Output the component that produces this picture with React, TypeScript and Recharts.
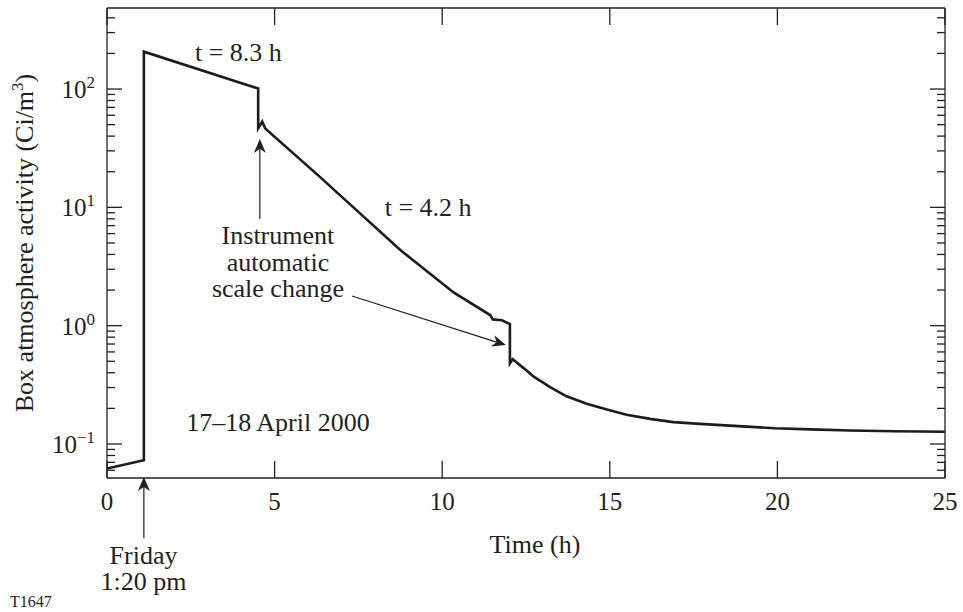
import {
  LineChart,
  Line,
  XAxis,
  YAxis,
  Label,
  ReferenceLine,
  ReferenceDot
} from "recharts";

// readings: time (h) and box activity (Ci/m3)
const hours = [
  0, 1.1, 1.1, 4.51, 4.51, 4.63, 4.72, 6.35, 8.75, 10.35, 11.43, 11.51, 11.78,
  12.02, 12.02, 12.1, 12.42, 12.72, 13.22, 13.71, 14.31, 14.94, 15.5, 16.2,
  16.9, 17.69, 19.92, 21, 22.17, 23.5, 25
];
const activity = [
  0.062, 0.073, 207, 101, 46.5, 53, 46.5, 18.1, 4.36, 1.9, 1.23, 1.13, 1.11,
  1.03, 0.48, 0.52, 0.44, 0.373, 0.303, 0.253, 0.219, 0.195, 0.177, 0.163,
  0.153, 0.148, 0.136, 0.133, 0.13, 0.128, 0.127
];

const xTicks = [0, 5, 10, 15, 20, 25];
const yTicks = [
  0.06, 0.07, 0.08, 0.09, 0.1, 0.2, 0.3, 0.4, 0.5, 0.6, 0.7, 0.8, 0.9,
  1, 2, 3, 4, 5, 6, 7, 8, 9, 10, 20, 30, 40, 50, 60, 70, 80, 90, 100, 200, 300, 400
];

const xDomain = [0, 25];
const yDomain = [0.0516, 484];

const serif = '"Liberation Serif", "Times New Roman", "DejaVu Serif", serif';
const ink = "#231f20";

const data = hours.map((t, i) => ({ t, v: activity[i] }));

const isMajor = (v: number) =>
  Math.abs(Math.log10(v) - Math.round(Math.log10(v))) < 1e-9;

function BottomTick(props: any) {
  const { x, y, payload } = props;
  return (
    <g>
      <line x1={x} y1={y} x2={x} y2={y - 17} stroke={ink} strokeWidth={1.3} />
      <text x={x} y={y + 32} textAnchor="middle" fontSize={25} fontFamily={serif} fill={ink}>
        {payload.value}
      </text>
    </g>
  );
}

function TopTick(props: any) {
  const { x, y } = props;
  return <line x1={x} y1={y} x2={x} y2={y + 17} stroke={ink} strokeWidth={1.3} />;
}

function LeftTick(props: any) {
  const { x, y, payload } = props;
  const major = isMajor(payload.value);
  const exp = Math.round(Math.log10(payload.value));
  return (
    <g>
      <line x1={x} y1={y} x2={x + (major ? 15 : 8)} y2={y} stroke={ink} strokeWidth={1.3} />
      {major && (
        <text x={x - 12} y={y + 9} textAnchor="end" fontSize={25} fontFamily={serif} fill={ink}>
          <tspan>10</tspan>
          <tspan dy={-10} fontSize={17}>{exp < 0 ? "\u2212" + Math.abs(exp) : exp}</tspan>
        </text>
      )}
    </g>
  );
}

function RightTick(props: any) {
  const { x, y, payload } = props;
  const major = isMajor(payload.value);
  return <line x1={x} y1={y} x2={x - (major ? 15 : 8)} y2={y} stroke={ink} strokeWidth={1.3} />;
}

function Arrow(p: any) {
  const { x1, y1, x2, y2 } = p;
  const len = Math.hypot(x2 - x1, y2 - y1) || 1;
  const ux = (x2 - x1) / len;
  const uy = (y2 - y1) / len;
  const hl = 14;
  const hw = 6;
  const bx = x2 - ux * hl;
  const by = y2 - uy * hl;
  const nx = x2 - ux * hl * 0.7;
  const ny = y2 - uy * hl * 0.7;
  return (
    <g>
      <line x1={x1} y1={y1} x2={nx} y2={ny} stroke={ink} strokeWidth={1.2} />
      <path
        d={`M${x2},${y2} L${bx - uy * hw},${by + ux * hw} L${nx},${ny} L${bx + uy * hw},${by - ux * hw} Z`}
        fill={ink}
      />
    </g>
  );
}

function note(lines: string[], size = 26) {
  return (p: any) => (
    <text x={p.cx} y={p.cy} textAnchor="middle" fontSize={size} fontFamily={serif} fill={ink}>
      {lines.map((s, i) => (
        <tspan key={i} x={p.cx} dy={i === 0 ? 0 : 26.5}>
          {s}
        </tspan>
      ))}
    </text>
  );
}

export default function App() {
  return (
    <div style={{ position: "absolute", left: 0, top: 0, width: 963, height: 612, background: "#fff" }}>
      <LineChart width={963} height={612} data={data} margin={{ top: 0, right: 0, bottom: 0, left: 0 }}>
        <XAxis
          dataKey="t"
          type="number"
          domain={xDomain}
          ticks={xTicks}
          interval={0}
          allowDataOverflow
          height={134}
          tickSize={0}
          tickMargin={0}
          tickLine={false}
          axisLine={{ stroke: ink, strokeWidth: 1.3 }}
          tick={(p: any) => <BottomTick {...p} />}
        >
          <Label
            value="Time (h)"
            position="insideBottom"
            offset={59}
            dx={9}
            style={{ fontSize: 26, fontFamily: serif, fill: ink }}
          />
        </XAxis>
        <XAxis
          xAxisId="top"
          orientation="top"
          dataKey="t"
          type="number"
          domain={xDomain}
          ticks={xTicks}
          interval={0}
          allowDataOverflow
          height={8}
          tickSize={0}
          tickMargin={0}
          tickLine={false}
          axisLine={{ stroke: ink, strokeWidth: 1.3 }}
          tick={(p: any) => <TopTick {...p} />}
        />
        <YAxis
          type="number"
          scale="log"
          domain={yDomain}
          ticks={yTicks}
          interval={0}
          allowDataOverflow
          width={107}
          tickSize={0}
          tickMargin={0}
          tickLine={false}
          axisLine={{ stroke: ink, strokeWidth: 1.3 }}
          tick={(p: any) => <LeftTick {...p} />}
        >
          <Label
            content={() => (
              <text
                transform="translate(33,243) rotate(-90)"
                textAnchor="middle"
                fontSize={26}
                fontFamily={serif}
                fill={ink}
              >
                <tspan>Box atmosphere activity (Ci/m</tspan>
                <tspan dy={-10} fontSize={17}>3</tspan>
                <tspan dy={10}>)</tspan>
              </text>
            )}
          />
        </YAxis>
        <YAxis
          yAxisId="right"
          orientation="right"
          type="number"
          scale="log"
          domain={yDomain}
          ticks={yTicks}
          interval={0}
          allowDataOverflow
          width={18}
          tickSize={0}
          tickMargin={0}
          tickLine={false}
          axisLine={{ stroke: ink, strokeWidth: 1.3 }}
          tick={(p: any) => <RightTick {...p} />}
        />

        <Line
          type="linear"
          dataKey="v"
          stroke="#1c1c1c"
          strokeWidth={2.6}
          dot={false}
          activeDot={false}
          isAnimationActive={false}
        />
        <Line
          xAxisId="top"
          yAxisId="right"
          dataKey="v"
          stroke="none"
          dot={false}
          activeDot={false}
          isAnimationActive={false}
        />

        <ReferenceLine
          segment={[{ x: 1.1, y: 0.016 }, { x: 1.1, y: 0.0525 }]}
          ifOverflow="visible"
          shape={(p: any) => <Arrow {...p} />}
        />
        <ReferenceLine
          segment={[{ x: 4.56, y: 7.96 }, { x: 4.56, y: 37.8 }]}
          ifOverflow="visible"
          shape={(p: any) => <Arrow {...p} />}
        />
        <ReferenceLine
          segment={[{ x: 7.31, y: 1.78 }, { x: 11.9, y: 0.685 }]}
          ifOverflow="visible"
          shape={(p: any) => <Arrow {...p} />}
        />

        <ReferenceDot x={3.92} y={172.5} r={0} ifOverflow="visible" shape={note(["t = 8.3 h"])} />
        <ReferenceDot x={9.58} y={8.43} r={0} ifOverflow="visible" shape={note(["t = 4.2 h"])} />
        <ReferenceDot
          x={5.1}
          y={4.9}
          r={0}
          ifOverflow="visible"
          shape={note(["Instrument", "automatic", "scale change"])}
        />
        <ReferenceDot x={5.1} y={0.1295} r={0} ifOverflow="visible" shape={note(["17\u201318 April 2000"])} />
        <ReferenceDot x={1.09} y={0.00969} r={0} ifOverflow="visible" shape={note(["Friday", "1:20 pm"])} />
        <ReferenceDot x={-2.27} y={0.0042} r={0} ifOverflow="visible" shape={note(["T1647"], 16)} />
      </LineChart>
    </div>
  );
}
